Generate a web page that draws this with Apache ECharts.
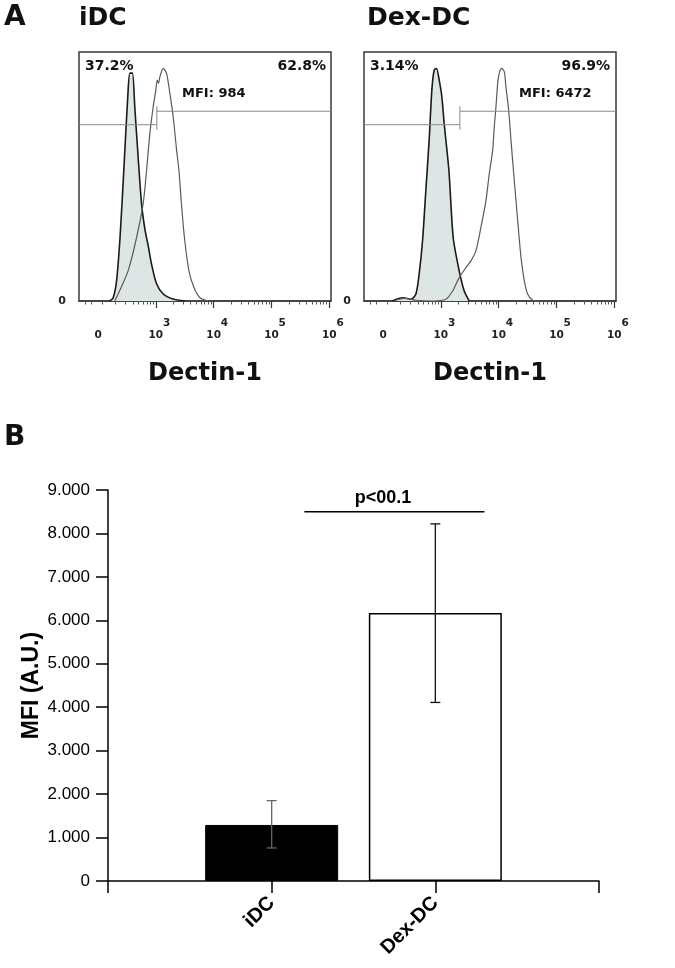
<!DOCTYPE html>
<html><head><meta charset="utf-8">
<script src="https://cdn.jsdelivr.net/npm/echarts@6/dist/echarts.min.js"></script>
<style>html,body{margin:0;padding:0;background:#fff}#c{width:675px;height:968px}</style>
</head><body><div id="c"></div>
<script>
// ---------- Panel A data (x in decade units: 2 = "0", 3 = 10^3 ... ; y = % of max) ----------
const panelTitles = ['iDC', 'Dex-DC'];
const idcIsoX = [2.20, 2.26, 2.32, 2.38, 2.445, 2.52, 2.55, 2.595, 2.635, 2.693, 2.752, 2.809, 2.867, 2.925, 3.012, 3.127, 3.295, 3.503];
const idcIsoY = [0, 1.2, 8.1, 25.5, 52.4, 84.7, 91.5, 91.5, 78, 57.8, 39.1, 29.0, 22.2, 14.8, 6.9, 2.8, 0.8, 0];
const idcStainX = [2.289, 2.347, 2.520, 2.666, 2.780, 2.839, 2.896, 2.953, 3.000, 3.023, 3.046, 3.069, 3.127, 3.185, 3.243, 3.300, 3.359, 3.399, 3.442, 3.494, 3.572, 3.659, 3.763, 3.902];
const idcStainY = [0, 2.8, 12.1, 25.5, 39.1, 52.4, 67.2, 77.9, 84.7, 88.7, 87.5, 90.0, 93.4, 91.4, 83.3, 73.9, 60.5, 52.4, 39.1, 25.5, 12.1, 5.4, 1.3, 0];
const dexIsoX = [2.163, 2.336, 2.480, 2.567, 2.624, 2.683, 2.740, 2.797, 2.844, 2.884, 2.925, 2.971, 3.017, 3.057, 3.139, 3.213, 3.317, 3.404, 3.490];
const dexIsoY = [0, 1.3, 0.7, 2.7, 10.8, 24.2, 44.4, 64.5, 84.7, 92.7, 93.4, 88.7, 82.0, 71.3, 52.4, 25.5, 12.1, 4.0, 0];
const dexStainX = [2.220, 2.393, 2.567, 2.856, 3.087, 3.203, 3.317, 3.433, 3.520, 3.607, 3.693, 3.780, 3.837, 3.896, 3.924, 3.953, 3.983, 4.010, 4.052, 4.097, 4.126, 4.173, 4.213, 4.270, 4.329, 4.386, 4.444, 4.503, 4.589, 4.676];
const dexStainY = [0.3, 1.1, 0.3, 0, 0.7, 4.0, 9.4, 13.4, 16.1, 20.2, 29.6, 40.3, 51.1, 60.5, 69.9, 77.9, 87.4, 91.4, 93.4, 92.1, 86.0, 76.6, 64.5, 48.4, 32.3, 17.5, 8.1, 2.7, 0.3, 0];
const gateThreshold = [3.017, 3.329];
const gateNegY = [70.8, 70.8];
const gatePosY = [76.2, 76.2];
const pctNeg = ['37.2%', '3.14%'];
const pctPos = ['62.8%', '96.9%'];
const mfiText = ['MFI: 984', 'MFI: 6472'];
const histTickValues = [2, 3, 4, 5, 6];       // "0", 10^3 ... 10^6
const histMajorTicks = [3, 4, 5, 6];
const histXName = 'Dectin-1';

// ---------- Panel B data ----------
const barCategories = ['iDC', 'Dex-DC'];
const barValues = [1290, 6170];
const errLow = [760, 4110];
const errHigh = [1850, 8220];
const sigFrom = 1.2, sigTo = 2.3, sigY = 8500, sigTextX = 1.68;
const sigText = 'p<00.1';

// ---------- helpers ----------
const HF = 'DejaVu Sans';
const BF = 'Liberation Sans';
const zip = (xs, ys) => xs.map((x, i) => [x, ys[i]]);
const minorTicks = [];
[2, 3, 4, 5].forEach(d => { for (let k = 2; k <= 9; k++) minorTicks.push(d + Math.log10(k)); });
minorTicks.push(1.78, 1.88, 2.08);
const XMIN = 1.67, XMAX = 6.03;

const grids = [
  {left: 79, top: 52, width: 252, height: 249, show: true, borderColor: '#3a3a3a', borderWidth: 1.5},
  {left: 364, top: 52, width: 252, height: 249, show: true, borderColor: '#3a3a3a', borderWidth: 1.5},
  {left: 108, top: 490, right: 76, bottom: 87}
];

const xAxes = [], yAxes = [], series = [];
[0, 1].forEach(i => {
  xAxes.push({
    type: 'value', gridIndex: i, min: XMIN, max: XMAX,
    axisLine: {show: true, lineStyle: {color: '#3a3a3a', width: 1.5}},
    splitLine: {show: false},
    axisTick: {show: true, customValues: histMajorTicks, length: 7, lineStyle: {color: '#333', width: 1.2}},
    axisLabel: {
      customValues: histTickValues, margin: 17,
      formatter: v => Math.round(v) === 2 ? '{b|0}' : '{p|}{b|10}{s|' + Math.round(v) + '}',
      rich: {
        b: {fontFamily: HF, fontWeight: 'bold', fontSize: 10.5, color: '#222', verticalAlign: 'bottom', lineHeight: 23},
        s: {fontFamily: HF, fontWeight: 'bold', fontSize: 10.5, color: '#222', verticalAlign: 'top', lineHeight: 23, width: 7},
        p: {width: 7, lineHeight: 23}
      }
    },
    name: histXName, nameLocation: 'middle', nameGap: 61, nameMoveOverlap: false,
    nameTextStyle: {fontFamily: HF, fontWeight: 'bold', fontSize: 24, color: '#111'}
  });
  xAxes.push({
    type: 'value', gridIndex: i, min: XMIN, max: XMAX, position: 'bottom',
    axisLine: {show: false}, splitLine: {show: false}, axisLabel: {show: false},
    axisTick: {show: true, customValues: minorTicks, length: 3.5, lineStyle: {color: '#555', width: 1}}
  });
  yAxes.push({
    type: 'value', gridIndex: i, min: 0, max: 100,
    axisLine: {show: false}, axisTick: {show: false}, splitLine: {show: false},
    axisLabel: {customValues: [0], formatter: () => '0', margin: 13, fontFamily: HF, fontWeight: 'bold', fontSize: 11, color: '#222'}
  });
});

const isoData = [zip(idcIsoX, idcIsoY), zip(dexIsoX, dexIsoY)];
const stainData = [zip(idcStainX, idcStainY), zip(dexStainX, dexStainY)];
[0, 1].forEach(i => {
  series.push({
    type: 'line', xAxisIndex: i * 2, yAxisIndex: i, data: isoData[i], smooth: 0.25,
    showSymbol: false, symbol: 'none', z: 2,
    lineStyle: {color: '#1a1a1a', width: 1.6},
    areaStyle: {color: '#dde6e5', opacity: 1}
  });
  series.push({
    type: 'line', xAxisIndex: i * 2, yAxisIndex: i, data: stainData[i], smooth: 0.25,
    showSymbol: false, symbol: 'none', z: 3,
    lineStyle: {color: '#5a5a5a', width: 1.2}
  });
  series.push({
    type: 'custom', xAxisIndex: i * 2, yAxisIndex: i, z: 4,
    data: [[gateThreshold[i], gateNegY[i], gatePosY[i]]],
    renderItem: (params, api) => {
      const cs = params.coordSys;
      const pn = api.coord([api.value(0), api.value(1)]);
      const pp = api.coord([api.value(0), api.value(2)]);
      const vt = api.coord([api.value(0), api.value(1) - 2]);
      const vb = api.coord([api.value(0), api.value(2) + 2]);
      const st = {stroke: '#8a8a8a', lineWidth: 1};
      return {type: 'group', children: [
        {type: 'line', shape: {x1: cs.x, y1: pn[1], x2: pn[0], y2: pn[1]}, style: st},
        {type: 'line', shape: {x1: pp[0], y1: pp[1], x2: cs.x + cs.width, y2: pp[1]}, style: st},
        {type: 'line', shape: {x1: pn[0], y1: vt[1], x2: pn[0], y2: vb[1]}, style: st}
      ]};
    }
  });
});

// Panel B axes
xAxes.push({
  type: 'value', gridIndex: 2, min: 0, max: 3, interval: 1,
  axisLine: {show: true, lineStyle: {color: '#000', width: 1.5}},
  axisTick: {show: true, length: 12, lineStyle: {color: '#000', width: 1.5}},
  splitLine: {show: false},
  axisLabel: {customValues: [1, 2], formatter: v => barCategories[Math.round(v) - 1], rotate: 45,
    fontFamily: BF, fontWeight: 'bold', fontSize: 20, color: '#000', margin: 19}
});
yAxes.push({
  type: 'value', gridIndex: 2, min: 0, max: 9000, interval: 1000,
  axisLine: {show: true, lineStyle: {color: '#000', width: 1.5}},
  axisTick: {show: true, length: 12, lineStyle: {color: '#000', width: 1.5}},
  splitLine: {show: false},
  axisLabel: {formatter: v => v === 0 ? '0' : (v / 1000) + '.000', fontFamily: BF, fontSize: 17, color: '#000', margin: 18},
  name: 'MFI (A.U.)', nameLocation: 'middle', nameGap: 65, nameMoveOverlap: false,
  nameTextStyle: {fontFamily: BF, fontWeight: 'bold', fontSize: 23, color: '#000'}
});

series.push({
  type: 'bar', xAxisIndex: 4, yAxisIndex: 2, barWidth: 133, z: 2,
  data: barValues.map((v, i) => ({
    value: [i + 1, v],
    itemStyle: i === 0 ? {color: '#000', borderColor: '#000', borderWidth: 1}
                       : {color: '#fff', borderColor: '#000', borderWidth: 1.5}
  }))
});
series.push({
  type: 'custom', xAxisIndex: 4, yAxisIndex: 2, z: 5,
  data: barValues.map((v, i) => [i + 1, errLow[i], errHigh[i]]),
  renderItem: (params, api) => {
    const lo = api.coord([api.value(0), api.value(1)]);
    const hi = api.coord([api.value(0), api.value(2)]);
    const st = {stroke: params.dataIndex === 0 ? '#666' : '#111', lineWidth: 1.3};
    const w = 5;
    return {type: 'group', children: [
      {type: 'line', shape: {x1: lo[0], y1: lo[1], x2: hi[0], y2: hi[1]}, style: st},
      {type: 'line', shape: {x1: hi[0] - w, y1: hi[1], x2: hi[0] + w, y2: hi[1]}, style: st},
      {type: 'line', shape: {x1: lo[0] - w, y1: lo[1], x2: lo[0] + w, y2: lo[1]}, style: st}
    ]};
  }
});
series.push({
  type: 'custom', xAxisIndex: 4, yAxisIndex: 2, z: 5,
  data: [[sigFrom, sigTo, sigY, sigTextX]],
  renderItem: (params, api) => {
    const a = api.coord([api.value(0), api.value(2)]);
    const b = api.coord([api.value(1), api.value(2)]);
    const t = api.coord([api.value(3), api.value(2)]);
    return {type: 'group', children: [
      {type: 'line', shape: {x1: a[0], y1: a[1], x2: b[0], y2: b[1]}, style: {stroke: '#000', lineWidth: 1.5}},
      {type: 'text', x: t[0], y: t[1] - 14, style: {text: sigText, font: 'bold 18px ' + BF, fill: '#000',
        align: 'center', verticalAlign: 'middle', textAlign: 'center', textVerticalAlign: 'middle'}}
    ]};
  }
});

const T = (text, x, y, size, align) => ({
  type: 'text', x: x, y: y, z: 10,
  style: {text: text, font: 'bold ' + size + 'px ' + HF, fill: '#111',
    align: align || 'left', verticalAlign: 'middle', textAlign: align || 'left', textVerticalAlign: 'middle'}
});
const graphics = [
  T('A', 4, 18, 28), T('B', 4, 438, 28),
  T(panelTitles[0], 79, 18, 25), T(panelTitles[1], 367, 18, 25),
  T(pctNeg[0], 85, 66, 14), T(pctPos[0], 326, 66, 14, 'right'), T(mfiText[0], 182, 94, 13),
  T(pctNeg[1], 370, 66, 14), T(pctPos[1], 610, 66, 14, 'right'), T(mfiText[1], 519, 94, 13)
];

const chart = echarts.init(document.getElementById('c'), null, {renderer: 'canvas'});
chart.setOption({
  animation: false,
  backgroundColor: '#fff',
  grid: grids,
  xAxis: xAxes,
  yAxis: yAxes,
  series: series,
  graphic: graphics
});
</script></body></html>
